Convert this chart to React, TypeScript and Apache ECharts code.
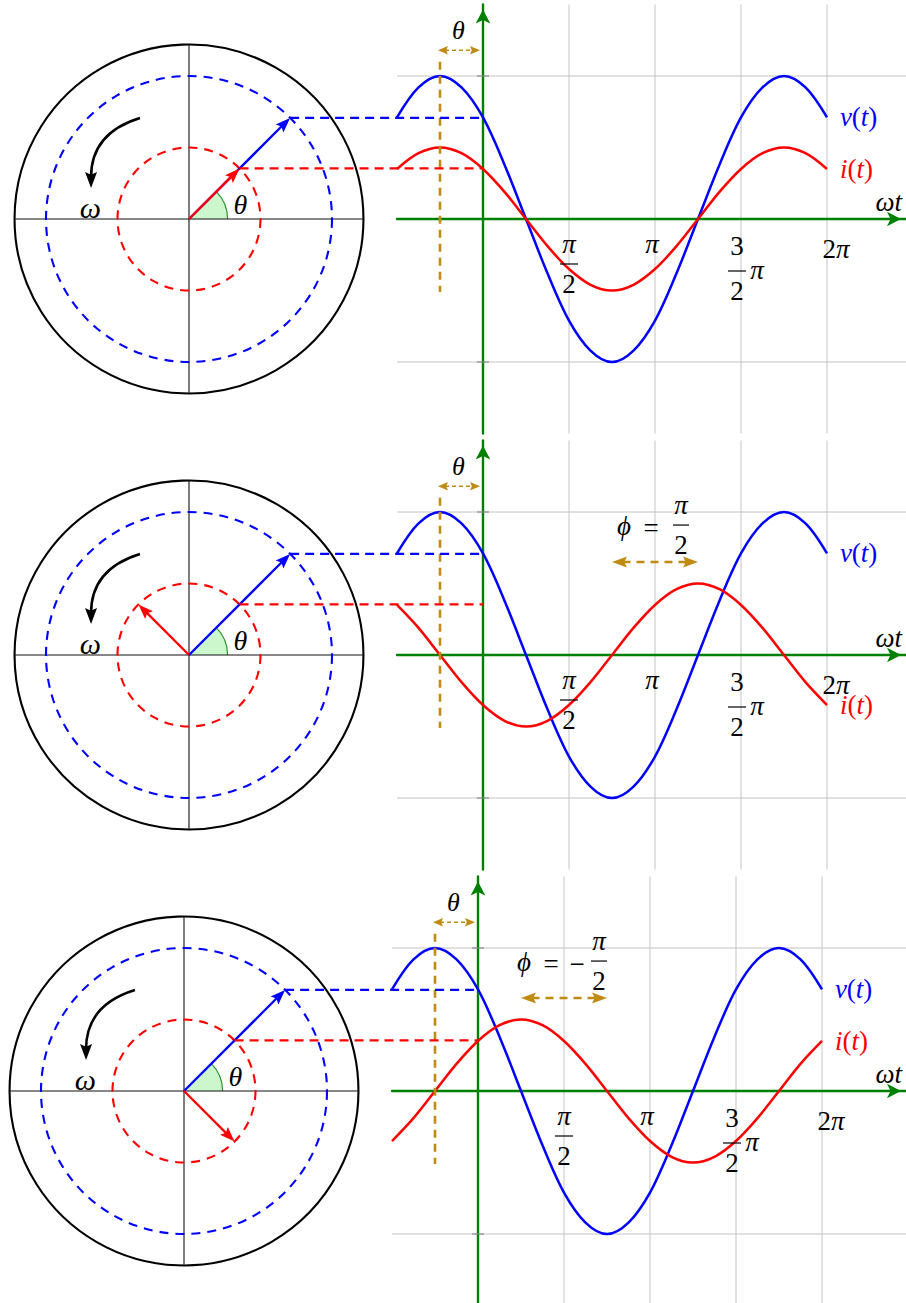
import React, { useEffect, useRef } from "react";
import * as echarts from "echarts";

const CHART_W = 906;
const CHART_H = 1303;

// ---------------- data ----------------
// ωt sample positions in units of π/2 (from −π/2 to 2π)
const omegaT = [-1, -0.75, -0.5, -0.25, 0, 0.25, 0.5, 0.75, 1, 1.25, 1.5, 1.75, 2, 2.25, 2.5, 2.75, 3, 3.25, 3.5, 3.75, 4];
// v(t) (same in all three panels)
const voltage = [0.71, 0.92, 1, 0.92, 0.71, 0.38, 0, -0.38, -0.71, -0.92, -1, -0.92, -0.71, -0.38, 0, 0.38, 0.71, 0.92, 1, 0.92, 0.71];
// i(t) for each panel
const currentInPhase = [0.35, 0.46, 0.5, 0.46, 0.35, 0.19, 0, -0.19, -0.35, -0.46, -0.5, -0.46, -0.35, -0.19, 0, 0.19, 0.35, 0.46, 0.5, 0.46, 0.35];
const currentPlusHalfPi = [0.35, 0.19, 0, -0.19, -0.35, -0.46, -0.5, -0.46, -0.35, -0.19, 0, 0.19, 0.35, 0.46, 0.5, 0.46, 0.35, 0.19, 0, -0.19, -0.35];
const currentMinusHalfPi = [-0.35, -0.19, 0, 0.19, 0.35, 0.46, 0.5, 0.46, 0.35, 0.19, 0, -0.19, -0.35, -0.46, -0.5, -0.46, -0.35, -0.19, 0, 0.19, 0.35];
const currents = [currentInPhase, currentPlusHalfPi, currentMinusHalfPi];

// phasors (degrees) and amplitudes
const voltagePhasorDeg = [45, 45, 45];
const currentPhasorDeg = [45, 135, -45];
const voltageAmplitude = 1;
const currentAmplitude = 0.5;
const outerCircleRadius = 1.22;
const thetaShift = -0.5; // θ, in units of π/2
// φ arrows (ωt from, ωt to) per panel
const phiSpans: (number[] | null)[] = [null, [1.5, 2.5], [0.5, 1.5]];
const phiSigns = ["", "", "−"];
// x tick labels
const xTicks = [1, 2, 3, 4];
const xTickLabels = ["π/2", "π", "3/2π", "2π"];
const yTicks = [1, -1];

// ---------------- layout / style ----------------
const UY = 143; // px per amplitude unit
const UX = 86; // px per π/2
const panels = [
  { cy: 219, originX: 483, phasorX: 189 },
  { cy: 655, originX: 483, phasorX: 189 },
  { cy: 1091, originX: 478, phasorX: 184 },
];
// per tick: text/numerator offset, bar offset, denominator offset, suffix offset
const tickOffsets = [
  { dx: 0, dy: 25, barDy: 45, barL: -9, barR: 9, denDy: 65, sufDx: 0, sufDy: 0 },
  { dx: -3, dy: 25, barDy: 0, barL: 0, barR: 0, denDy: 0, sufDx: 0, sufDy: 0 },
  { dx: -4, dy: 27, barDy: 52, barL: -13, barR: 5, denDy: 72, sufDx: 16, sufDy: 51 },
  { dx: 9, dy: 30, barDy: 0, barL: 0, barR: 0, denDy: 0, sufDx: 0, sufDy: 0 },
];

const BLUE = "#0000ff";
const RED = "#ff0000";
const GREEN = "#008000";
const ORANGE = "#bf8b13";
const GRID = "#c4c4c4";
const SERIF = "'Liberation Serif', 'DejaVu Serif', serif";
const FS = 27;

function fstyle(size: number, italic: boolean, color: string) {
  return {
    fontFamily: SERIF,
    fontSize: size,
    fontStyle: italic ? "italic" : "normal",
    fill: color,
  };
}

function text(x: number, y: number, s: string, opt: any = {}) {
  return {
    type: "text",
    x,
    y,
    silent: true,
    style: {
      text: s,
      ...fstyle(opt.size || FS, opt.italic !== false, opt.color || "#000"),
      align: opt.align || "center",
      verticalAlign: "middle",
    },
  };
}

function seg(a: number[], b: number[], color: string, lw: number, dash?: number[]) {
  return {
    type: "line",
    silent: true,
    shape: { x1: a[0], y1: a[1], x2: b[0], y2: b[1] },
    style: { stroke: color, lineWidth: lw, lineDash: dash || null, fill: "none" },
  };
}

function head(tip: number[], u: number[], len: number, hw: number, color: string) {
  const [ux, uy] = u;
  const px = -uy;
  const py = ux;
  const bx = tip[0] - ux * len;
  const by = tip[1] - uy * len;
  const ix = tip[0] - ux * len * 0.82;
  const iy = tip[1] - uy * len * 0.82;
  return {
    type: "polygon",
    silent: true,
    shape: { points: [[tip[0], tip[1]], [bx + px * hw, by + py * hw], [ix, iy], [bx - px * hw, by - py * hw]] },
    style: { fill: color },
  };
}

function arrow(from: number[], to: number[], color: string, lw: number, len: number, hw: number) {
  const dx = to[0] - from[0];
  const dy = to[1] - from[1];
  const d = Math.hypot(dx, dy);
  const u = [dx / d, dy / d];
  const end = [to[0] - u[0] * len * 0.7, to[1] - u[1] * len * 0.7];
  return [seg(from, end, color, lw), head(to, u, len, hw, color)];
}

function dblArrow(a: number[], b: number[], color: string, lw: number, dash: number[], len: number, hw: number) {
  const dx = b[0] - a[0];
  const dy = b[1] - a[1];
  const d = Math.hypot(dx, dy);
  const u = [dx / d, dy / d];
  const s = [a[0] + u[0] * len * 0.7, a[1] + u[1] * len * 0.7];
  const e = [b[0] - u[0] * len * 0.7, b[1] - u[1] * len * 0.7];
  return [seg(s, e, color, lw, dash), head(a, [-u[0], -u[1]], len, hw, color), head(b, u, len, hw, color)];
}

function makePhasorRender(p: number) {
  return (_params: any, api: any) => {
    const c = api.coord([0, 0]);
    const k = api.size([1, 1])[0];
    const P = (x: number, y: number) => [c[0] + x * k, c[1] - y * k];
    const vRad = (voltagePhasorDeg[p] * Math.PI) / 180;
    const iRad = (currentPhasorDeg[p] * Math.PI) / 180;
    const ch: any[] = [];
    const sr = 0.27 * k;
    ch.push({
      type: "sector",
      silent: true,
      shape: { cx: c[0], cy: c[1], r0: 0, r: sr, startAngle: -vRad, endAngle: 0, clockwise: true },
      style: { fill: "#ccf7cc" },
    });
    ch.push({
      type: "arc",
      silent: true,
      shape: { cx: c[0], cy: c[1], r: sr, startAngle: -vRad, endAngle: 0, clockwise: true },
      style: { stroke: "#1f8f1f", lineWidth: 1.1, fill: "none" },
    });
    ch.push({
      type: "circle",
      silent: true,
      shape: { cx: c[0], cy: c[1], r: outerCircleRadius * k },
      style: { fill: "none", stroke: "#000", lineWidth: 2.1 },
    });
    ch.push(seg(P(-outerCircleRadius, 0), P(outerCircleRadius, 0), "#111", 1.1));
    ch.push(seg(P(0, -outerCircleRadius), P(0, outerCircleRadius), "#111", 1.1));
    ch.push({
      type: "circle",
      silent: true,
      shape: { cx: c[0], cy: c[1], r: voltageAmplitude * k },
      style: { fill: "none", stroke: BLUE, lineWidth: 2.1, lineDash: [9, 7] },
    });
    ch.push({
      type: "circle",
      silent: true,
      shape: { cx: c[0], cy: c[1], r: currentAmplitude * k },
      style: { fill: "none", stroke: RED, lineWidth: 2.1, lineDash: [9, 7] },
    });
    ch.push(...arrow(c, P(voltageAmplitude * Math.cos(vRad), voltageAmplitude * Math.sin(vRad)), BLUE, 2.3, 15, 5.5));
    ch.push(...arrow(c, P(currentAmplitude * Math.cos(iRad), currentAmplitude * Math.sin(iRad)), RED, 2.3, 15, 5.5));
    // ω rotation arrow
    const s0 = P(-0.343, 0.706);
    const cp = P(-0.688, 0.6);
    const tip = P(-0.685, 0.217);
    ch.push({
      type: "bezierCurve",
      silent: true,
      shape: { x1: s0[0], y1: s0[1], x2: tip[0], y2: tip[1] - 10, cpx1: cp[0], cpy1: cp[1] },
      style: { stroke: "#000", lineWidth: 2.5, fill: "none" },
    });
    ch.push(head(tip, [0, 1], 16, 6, "#000"));
    const wl = P(-0.69, 0.08);
    ch.push(text(wl[0], wl[1], "ω", { size: 30 }));
    const tl = P(0.36, 0.1);
    ch.push(text(tl[0], tl[1], "θ", { size: 28 }));
    return { type: "group", children: ch };
  };
}

function makeGridRender() {
  return (params: any, api: any) => {
    const cs = params.coordSys;
    const ch: any[] = [];
    xTicks.forEach((t) => {
      const x = api.coord([t, 0])[0];
      ch.push(seg([x, cs.y], [x, cs.y + cs.height], GRID, 1));
    });
    yTicks.forEach((v) => {
      const y = api.coord([0, v])[1];
      ch.push(seg([cs.x, y], [cs.x + cs.width, y], GRID, 1));
    });
    return { type: "group", children: ch };
  };
}

function makeAnnotRender(p: number) {
  return (params: any, api: any) => {
    const cs = params.coordSys;
    const C = (x: number, y: number) => api.coord([x, y]);
    const ch: any[] = [];
    // small y ticks
    yTicks.forEach((v) => {
      const q = C(0, v);
      ch.push(seg([q[0] - 6, q[1]], [q[0] + 6, q[1]], "#8a8a8a", 1.2));
    });
    // θ guide and arrow
    ch.push(seg(C(thetaShift, 1.1), C(thetaShift, -0.51), ORANGE, 2.6, [8, 6]));
    const l = C(thetaShift, 1.18);
    const r = C(0, 1.18);
    ch.push(...dblArrow([l[0] - 2, l[1]], [r[0] - 3, r[1]], ORANGE, 1.5, [4, 3], 10, 4.2));
    const tl = C(thetaShift / 2, 1.32);
    ch.push(text(tl[0] - 3, tl[1], "θ", { size: 26 }));
    // tick labels
    xTicks.forEach((t, j) => {
      const b = C(t, 0);
      const o = tickOffsets[j];
      const lab = xTickLabels[j];
      const m = /^(.+)\/(\d)(.*)$/.exec(lab);
      if (m) {
        ch.push(text(b[0] + o.dx, b[1] + o.dy, m[1], { italic: m[1] === "π", size: FS }));
        ch.push(seg([b[0] + o.barL, b[1] + o.barDy], [b[0] + o.barR, b[1] + o.barDy], "#000", 1.2));
        ch.push(text(b[0] + o.dx, b[1] + o.denDy, m[2], { italic: false, size: FS }));
        if (m[3]) ch.push(text(b[0] + o.sufDx, b[1] + o.sufDy, m[3], { size: FS }));
      } else {
        ch.push({
          type: "text",
          x: b[0] + o.dx,
          y: b[1] + o.dy,
          silent: true,
          style: {
            text: lab.replace(/(\d*)(π)/, "{n|$1}{i|$2}"),
            align: "center",
            verticalAlign: "middle",
            rich: {
              n: fstyle(FS, false, "#000"),
              i: fstyle(FS, true, "#000"),
            },
          },
        });
      }
    });
    // series labels
    const last = omegaT.length - 1;
    const lbl = (pt: number[], name: string, color: string) => ({
      type: "text",
      x: pt[0],
      y: pt[1],
      silent: true,
      style: {
        text: `{i|${name}}{n|(}{i|t}{n|)}`,
        align: "left",
        verticalAlign: "middle",
        rich: {
          i: fstyle(FS, true, color),
          n: fstyle(FS, false, color),
        },
      },
    });
    ch.push(lbl(C(4.15, voltage[last]), "v", BLUE));
    ch.push(lbl(C(4.15, currents[p][last]), "i", RED));
    const o = C(0, 0);
    ch.push(text(cs.x + cs.width - 4, o[1] - 17, "ωt", { align: "right", size: FS }));
    // φ annotation
    const span = phiSpans[p];
    if (span) {
      const a = C(span[0], 0.65);
      const b = C(span[1], 0.65);
      ch.push(...dblArrow(a, b, ORANGE, 2.6, [8, 6], 15, 5.5));
      const mx = (a[0] + b[0]) / 2;
      const y = a[1];
      const neg = phiSigns[p] !== "";
      const base = neg ? mx - 40 : mx - 31;
      ch.push(text(base, y - 36, "ϕ", { size: FS }));
      ch.push(text(base + 27, y - 34, "=", { italic: false, size: FS }));
      let fx = base + 57;
      if (neg) {
        ch.push(text(base + 53, y - 34, phiSigns[p], { italic: false, size: FS }));
        fx = base + 75;
      }
      ch.push(text(fx, y - 57, "π", { size: FS }));
      ch.push(seg([fx - 8, y - 37], [fx + 8, y - 37], "#000", 1.2));
      ch.push(text(fx, y - 17, "2", { italic: false, size: FS }));
    }
    return { type: "group", children: ch };
  };
}

function buildOption() {
  const grid: any[] = [];
  const xAxis: any[] = [];
  const yAxis: any[] = [];
  const series: any[] = [];
  const axisLine = {
    show: true,
    onZero: true,
    symbol: ["none", "arrow"],
    symbolSize: [11, 14],
    symbolOffset: [0, -5],
    lineStyle: { color: GREEN, width: 2.4 },
  };
  panels.forEach((P, p) => {
    const top = P.cy - 1.5 * UY;
    const gLeft = P.originX - UX;
    const gWidth = CHART_W - gLeft;
    grid.push({ left: P.phasorX - 1.25 * UY, top, width: 2.5 * UY, height: 3 * UY, outerBoundsMode: "none" });
    grid.push({ left: gLeft, top, width: gWidth, height: 3 * UY, outerBoundsMode: "none" });
    xAxis.push({ gridIndex: 2 * p, type: "value", min: -1.25, max: 1.25, show: false });
    yAxis.push({ gridIndex: 2 * p, type: "value", min: -1.5, max: 1.5, show: false });
    xAxis.push({
      gridIndex: 2 * p + 1,
      type: "value",
      min: -1,
      max: -1 + gWidth / UX,
      z: 1,
      axisLine,
      axisTick: { show: false },
      axisLabel: { show: false },
      splitLine: { show: false },
    });
    yAxis.push({
      gridIndex: 2 * p + 1,
      type: "value",
      min: -1.5,
      max: 1.5,
      z: 1,
      axisLine,
      axisTick: { show: false },
      axisLabel: { show: false },
      splitLine: { show: false },
    });
    series.push({
      type: "custom",
      xAxisIndex: 2 * p,
      yAxisIndex: 2 * p,
      data: [[0, 0]],
      silent: true,
      z: 2,
      renderItem: makePhasorRender(p),
    });
    series.push({
      type: "custom",
      xAxisIndex: 2 * p + 1,
      yAxisIndex: 2 * p + 1,
      data: [[0, 0]],
      silent: true,
      z: 0,
      renderItem: makeGridRender(),
    });
    series.push({
      type: "line",
      name: "v(t)",
      xAxisIndex: 2 * p + 1,
      yAxisIndex: 2 * p + 1,
      data: omegaT.map((t, i) => [t, voltage[i]]),
      smooth: 0.33,
      symbol: "none",
      silent: true,
      z: 3,
      lineStyle: { color: BLUE, width: 2.5 },
    });
    series.push({
      type: "line",
      name: "i(t)",
      xAxisIndex: 2 * p + 1,
      yAxisIndex: 2 * p + 1,
      data: omegaT.map((t, i) => [t, currents[p][i]]),
      smooth: 0.33,
      symbol: "none",
      silent: true,
      z: 3,
      lineStyle: { color: RED, width: 2.5 },
    });
    series.push({
      type: "custom",
      xAxisIndex: 2 * p + 1,
      yAxisIndex: 2 * p + 1,
      data: [[0, 0]],
      silent: true,
      z: 4,
      renderItem: makeAnnotRender(p),
    });
  });
  return { animation: false, backgroundColor: "#ffffff", grid, xAxis, yAxis, series };
}

export default function App() {
  const ref = useRef<HTMLDivElement>(null);
  useEffect(() => {
    if (!ref.current) return;
    const chart = echarts.init(ref.current, null, { renderer: "svg", width: CHART_W, height: CHART_H });
    chart.setOption(buildOption());
    const elements: any[] = [];
    panels.forEach((_, p) => {
      const vRad = (voltagePhasorDeg[p] * Math.PI) / 180;
      const tips: [number[], string][] = [
        [[voltageAmplitude * Math.cos(vRad), voltageAmplitude * Math.sin(vRad)], BLUE],
        [[currentAmplitude * Math.cos(vRad), currentAmplitude * Math.sin(vRad)], RED],
      ];
      tips.forEach(([tip, color]) => {
        const a = chart.convertToPixel({ gridIndex: 2 * p } as any, tip) as any;
        const b = chart.convertToPixel({ gridIndex: 2 * p + 1 } as any, [0, tip[1]]) as any;
        elements.push({
          type: "line",
          z: 10,
          silent: true,
          shape: { x1: a[0], y1: a[1], x2: b[0], y2: a[1] },
          style: { stroke: color, lineWidth: 2.3, lineDash: [9, 6] },
        });
      });
    });
    chart.setOption({ graphic: elements });
    return () => chart.dispose();
  }, []);
  return <div ref={ref} style={{ position: "absolute", left: 0, top: 0, width: CHART_W, height: CHART_H }} />;
}
